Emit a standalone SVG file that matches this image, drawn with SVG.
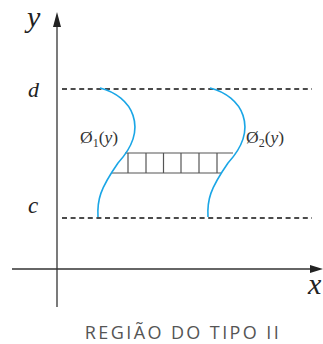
<svg xmlns="http://www.w3.org/2000/svg" width="323" height="344" viewBox="0 0 323 344">
<style>
.axis{stroke:#333;stroke-width:1.3;fill:none}
.dash{stroke:#111;stroke-width:1.3;stroke-dasharray:5 3.6;fill:none}
.curve{stroke:#1aa6e6;stroke-width:1.6;fill:none}
.strip{stroke:#555;stroke-width:1.2;fill:none}
.it{font-family:"Liberation Serif",serif;font-style:italic;fill:#222}
.lab{font-family:"Liberation Serif",serif;fill:#333;font-size:17.5px}
.title{font-family:"Open Sans",sans-serif;fill:#555;font-size:18px;letter-spacing:2.4px}
</style>
<rect width="323" height="344" fill="#fff"/>
<g id="connectors">
<line class="axis" x1="57" y1="307" x2="57" y2="24"/>
<polygon points="57,12 53,27 61,27" fill="#222"/>
<line class="axis" x1="12" y1="269" x2="312" y2="269"/>
<polygon points="323,269 310,265 310,273" fill="#222"/>
<line class="dash" x1="62" y1="89" x2="312" y2="89"/>
<line class="dash" x1="62" y1="218" x2="312" y2="218"/>
</g>
<g id="strip">
<line class="strip" x1="125" y1="153" x2="233" y2="153"/>
<line class="strip" x1="111" y1="173" x2="221" y2="173"/>
<line class="strip" x1="128" y1="153" x2="128" y2="173"/>
<line class="strip" x1="146" y1="153" x2="146" y2="173"/>
<line class="strip" x1="163.5" y1="153" x2="163.5" y2="173"/>
<line class="strip" x1="181" y1="153" x2="181" y2="173"/>
<line class="strip" x1="199" y1="153" x2="199" y2="173"/>
<line class="strip" x1="217" y1="153" x2="217" y2="173"/>
</g>
<g id="phi1">
<path class="curve" d="M100,88 C132,96 150,128 118,163 C100,189 97,200 98,217"/>
<text class="lab" x="80" y="143">Ø<tspan font-size="12" dy="4">1</tspan><tspan dy="-4">(</tspan><tspan font-style="italic">y</tspan>)</text>
</g>
<g id="phi2">
<path class="curve" d="M210,88 C242,96 260,128 228,163 C210,189 207,200 208,217"/>
<text class="lab" x="246" y="143">Ø<tspan font-size="12" dy="4">2</tspan><tspan dy="-4">(</tspan><tspan font-style="italic">y</tspan>)</text>
</g>
<g id="labels">
<text class="it" x="27" y="27" font-size="30">y</text>
<text class="it" x="28" y="97" font-size="22">d</text>
<text class="it" x="28" y="213" font-size="23">c</text>
<text class="it" x="308" y="294" font-size="30">x</text>
<text class="title" x="183" y="339" text-anchor="middle">REGIÃO DO TIPO II</text>
</g>
</svg>
